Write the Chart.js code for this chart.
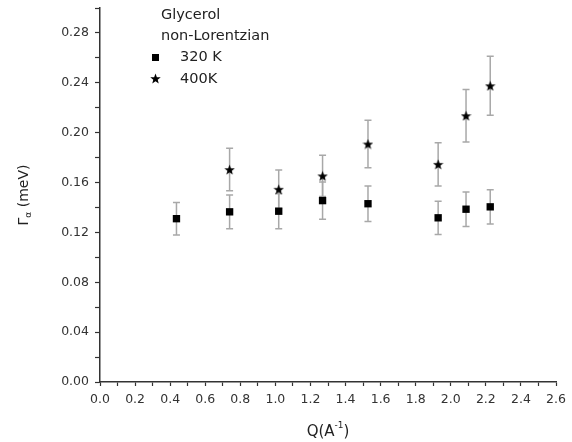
<!DOCTYPE html>
<html>
<head>
<meta charset="utf-8">
<script src="https://cdn.jsdelivr.net/npm/chart.js@4.4.0/dist/chart.umd.min.js"></script>
<style>
  html, body { margin: 0; padding: 0; background: #fff; }
  #wrap { width: 572px; height: 442px; }
</style>
</head>
<body>
<div id="wrap"><canvas id="c" width="572" height="442"></canvas></div>
<script>
// data
var q320 = [0.436, 0.739, 1.019, 1.269, 1.528, 1.928, 2.087, 2.225];
var g320 = [0.131, 0.1365, 0.137, 0.1455, 0.143, 0.1317, 0.1386, 0.1405];
var e320 = [0.013, 0.0135, 0.014, 0.015, 0.0143, 0.0133, 0.0138, 0.0137];
var q400 = [0.739, 1.019, 1.269, 1.528, 1.928, 2.087, 2.225];
var g400 = [0.1704, 0.1546, 0.1653, 0.1909, 0.1746, 0.2136, 0.2376];
var e400 = [0.017, 0.0155, 0.0165, 0.019, 0.0174, 0.021, 0.0237];
var legendTitle = ['Glycerol', 'non-Lorentzian'];
var seriesNames = ['320 K', '400K'];

var FONT = '"DejaVu Sans", sans-serif';

function toPoints(xs, ys, es) {
  var out = [];
  for (var i = 0; i < xs.length; i++) out.push({x: xs[i], y: ys[i], err: es[i]});
  return out;
}

// five-point star as point style
function makeStar(size) {
  var cv = document.createElement('canvas');
  cv.width = size; cv.height = size;
  var c = cv.getContext('2d');
  var cx = size / 2, cy = size / 2 + 0.5, R = size / 2, r = R * 0.42;
  c.beginPath();
  for (var i = 0; i < 10; i++) {
    var rad = (i % 2 === 0) ? R : r;
    var a = -Math.PI / 2 + i * Math.PI / 5;
    var px = cx + rad * Math.cos(a), py = cy + rad * Math.sin(a);
    if (i === 0) c.moveTo(px, py); else c.lineTo(px, py);
  }
  c.closePath();
  c.fillStyle = '#000';
  c.fill();
  return cv;
}
var star = makeStar(11);

var errorBars = {
  id: 'errorBars',
  beforeDatasetsDraw: function(chart) {
    var ctx = chart.ctx, ys = chart.scales.y, xs = chart.scales.x;
    ctx.save();
    ctx.strokeStyle = '#a8a8a8';
    ctx.lineWidth = 1.5;
    chart.data.datasets.forEach(function(ds) {
      ds.data.forEach(function(p) {
        var x = xs.getPixelForValue(p.x);
        var t = ys.getPixelForValue(p.y + p.err);
        var b = ys.getPixelForValue(p.y - p.err);
        ctx.beginPath();
        ctx.moveTo(x, t); ctx.lineTo(x, b);
        ctx.moveTo(x - 3.5, t); ctx.lineTo(x + 3.5, t);
        ctx.moveTo(x - 3.5, b); ctx.lineTo(x + 3.5, b);
        ctx.stroke();
      });
    });
    ctx.restore();
  }
};

var decorations = {
  id: 'decorations',
  afterDraw: function(chart) {
    var ctx = chart.ctx, a = chart.chartArea;
    ctx.save();
    ctx.fillStyle = '#222';
    ctx.textBaseline = 'middle';

    // legend
    ctx.font = '14.5px ' + FONT;
    ctx.textAlign = 'left';
    ctx.fillText(legendTitle[0], 161, 15);
    ctx.fillText(legendTitle[1], 161, 36);
    ctx.fillStyle = '#000';
    ctx.fillRect(152, 54, 7, 7);
    ctx.drawImage(star, 150, 73);
    ctx.fillStyle = '#222';
    ctx.fillText(seriesNames[0], 180, 57);
    ctx.fillText(seriesNames[1], 180, 79);

    // x title: Q(A^-1)
    var cx = (a.left + a.right) / 2;
    ctx.font = '15px ' + FONT;
    var w1 = ctx.measureText('Q(A').width;
    ctx.font = '9px ' + FONT;
    var w2 = ctx.measureText('-1').width;
    ctx.font = '15px ' + FONT;
    var w3 = ctx.measureText(')').width;
    var sx = cx - (w1 + w2 + w3) / 2, ty = 432;
    ctx.fillText('Q(A', sx, ty);
    ctx.font = '9px ' + FONT;
    ctx.fillText('-1', sx + w1, ty - 6);
    ctx.font = '15px ' + FONT;
    ctx.fillText(')', sx + w1 + w2, ty);

    // y title: Γα (meV)
    ctx.translate(24, (a.top + a.bottom) / 2);
    ctx.rotate(-Math.PI / 2);
    ctx.font = '14px ' + FONT;
    var g = ctx.measureText('\u0393').width;
    ctx.font = '9px ' + FONT;
    var al = ctx.measureText('\u03b1').width;
    ctx.font = '14px ' + FONT;
    var rest = ctx.measureText(' (meV)').width;
    var s = -(g + al + rest) / 2;
    ctx.fillText('\u0393', s, 0);
    ctx.font = '9px ' + FONT;
    ctx.fillText('\u03b1', s + g, 5);
    ctx.font = '14px ' + FONT;
    ctx.fillText(' (meV)', s + g + al, 0);
    ctx.restore();
  }
};

new Chart(document.getElementById('c'), {
  type: 'scatter',
  data: {
    datasets: [{
      label: seriesNames[0],
      data: toPoints(q320, g320, e320),
      pointStyle: 'rect',
      pointRadius: 5.2,
      pointHoverRadius: 5.2,
      backgroundColor: '#000',
      borderColor: '#000',
      borderWidth: 0
    }, {
      label: seriesNames[1],
      data: toPoints(q400, g400, e400),
      pointStyle: star,
      pointRadius: 6,
      backgroundColor: '#000',
      borderColor: '#000'
    }]
  },
  options: {
    responsive: false,
    animation: false,
    events: [],
    layout: { padding: { left: 0, right: 16, top: 8, bottom: 0 } },
    plugins: { legend: { display: false }, tooltip: { enabled: false } },
    scales: {
      x: {
        type: 'linear', min: 0, max: 2.6,
        afterFit: function(s) { s.height = 60; s.paddingLeft = 0; s.paddingRight = 0; },
        border: { display: true, color: '#333', width: 1.5 },
        grid: { drawOnChartArea: false, drawTicks: true, tickLength: 4, color: '#333', tickWidth: 1.2 },
        ticks: {
          stepSize: 0.1, autoSkip: false, maxRotation: 0, padding: 6,
          color: '#333', font: { family: FONT, size: 12.5 },
          callback: function(v) {
            var n = Math.round(v * 10);
            return n % 2 === 0 ? (n / 10).toFixed(1) : '';
          }
        }
      },
      y: {
        type: 'linear', min: 0, max: 0.30,
        afterFit: function(s) { s.width = 100; s.paddingTop = 0; s.paddingBottom = 0; },
        border: { display: true, color: '#333', width: 1.5 },
        grid: { drawOnChartArea: false, drawTicks: true, tickLength: 5, color: '#333', tickWidth: 1.2 },
        ticks: {
          stepSize: 0.02, autoSkip: false, padding: 6,
          color: '#333', font: { family: FONT, size: 12.5 },
          callback: function(v) {
            var n = Math.round(v * 100);
            return n % 4 === 0 ? (n / 100).toFixed(2) : '';
          }
        }
      }
    }
  },
  plugins: [errorBars, decorations]
});
</script>
</body>
</html>
